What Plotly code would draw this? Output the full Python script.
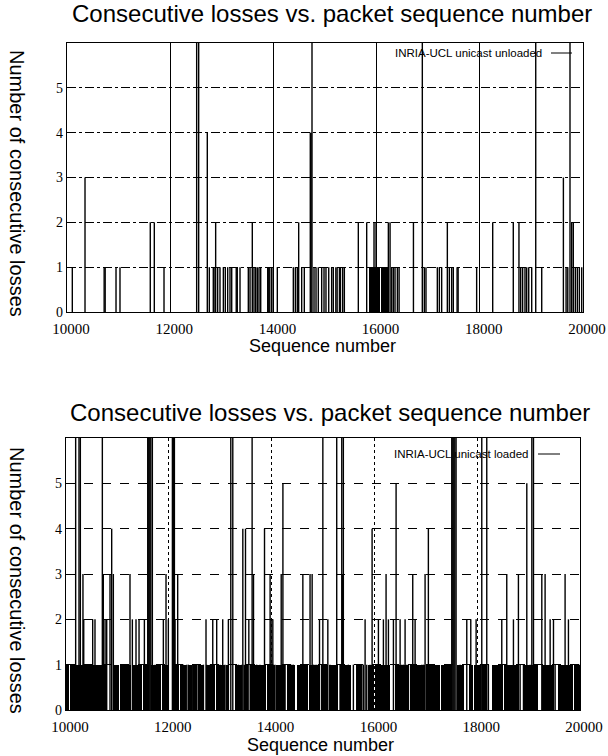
import plotly.graph_objects as go

W, H = 608, 756

# ---------------- data: unloaded (top) ----------------
unl_seq = [10103, 10349, 10720, 10740, 10950, 11027, 11614, 11692, 11880, 12513, 12552,
           12719, 12758, 12835, 12850, 12881, 12920, 12965, 13030, 13068, 13114, 13159,
           13192, 13280, 13300, 13353, 13514, 13547, 13591, 13624, 13657, 13688, 13721,
           13754, 13890, 13910, 13930, 13967, 13998, 14076, 14386, 14425, 14463, 14490,
           14548, 14599, 14715, 14730, 14748, 14787, 14826, 14870, 14936, 14981, 15019,
           15072, 15129, 15161, 15210, 15235, 15280, 15300, 15343, 15375, 15646, 15808,
           15950, 15989, 16228, 16261, 16293, 16325, 16357, 16403, 16436, 16714, 16886,
           16925, 16957, 17177, 17216, 17261, 17371, 17410, 17455, 17487, 17560, 17580,
           17939, 18250, 18649, 18759, 18792, 18830, 18876, 18909, 18948, 19006, 19084,
           19200, 19620, 19672, 19705, 19748, 19781, 19812, 19851, 19890, 19929, 19975]
unl_len = [1, 3, 1, 1, 1, 1, 2, 2, 1, 7, 7,
           4, 1, 1, 1, 2, 1, 1, 1, 1, 1, 1,
           1, 1, 1, 1, 1, 1, 2, 1, 1, 1, 1,
           1, 1, 1, 1, 1, 1, 1, 1, 1, 1, 2,
           1, 1, 4, 4, 7, 1, 1, 1, 1, 1, 1,
           1, 1, 1, 1, 1, 1, 1, 1, 1, 2, 2,
           2, 2, 2, 2, 1, 1, 1, 1, 1, 2, 7,
           1, 1, 1, 1, 1, 2, 1, 1, 1, 1, 1,
           1, 2, 2, 2, 1, 1, 1, 1, 1, 1, 7,
           1, 3, 1, 1, 7, 2, 2, 1, 1, 1, 1]
unl_burst_start = [15860, 16085]
unl_burst_end = [16060, 16215]

# ---------------- data: loaded (bottom) ----------------
ld_seq = [10188, 10253, 10279, 10330, 10345, 10402, 10499, 10519, 10564, 10707, 10726,
          10760, 10792, 10856, 10889, 10921, 11245, 11291, 11362, 11421, 11525, 11590,
          11610, 11630, 11650, 11680, 11732, 11764, 11894, 11946, 11991, 12070, 12090,
          12109, 12121, 12173, 12283, 12349, 12381, 12466, 12511, 12544, 12576, 12674,
          12724, 12738, 12802, 12855, 12867, 12932, 12997, 13049, 13094, 13159, 13206,
          13245, 13354, 13419, 13440, 13464, 13492, 13516, 13557, 13621, 13645, 13648,
          13710, 13775, 13862, 13971, 13991, 14024, 14034, 14067, 14187, 14220, 14262,
          14327, 14359, 14392, 14424, 14608, 14619, 14651, 14683, 14748, 14789, 14813,
          14846, 14878, 14932, 14997, 15008, 15073, 15094, 15137, 15267, 15332, 15365,
          15380, 15396, 15494, 15591, 15656, 15721, 15754, 15786, 15819, 15851, 15916,
          15955, 16078, 16175, 16227, 16273, 16370, 16422, 16500, 16532, 16565, 16597,
          16630, 16662, 16746, 16792, 16921, 16954, 16986, 17019, 17050, 17084, 17116,
          17505, 17525, 17545, 17565, 17589, 17668, 17797, 17875, 17979, 18056, 18089,
          18121, 18186, 18218, 18478, 18575, 18705, 18770, 18802, 18835, 18900, 18965,
          19030, 19063, 19095, 19257, 19321, 19419, 19484, 19516, 19710, 19775, 19990]
ld_len = [7, 7, 7, 3, 2, 1, 1, 2, 2, 7, 3,
          2, 2, 3, 4, 3, 3, 2, 2, 2, 2, 7,
          7, 7, 7, 7, 1, 1, 2, 3, 2, 7, 7,
          7, 2, 3, 1, 1, 1, 1, 1, 1, 1, 1,
          2, 1, 1, 2, 1, 2, 1, 2, 1, 2, 7,
          7, 1, 1, 4, 1, 4, 1, 2, 7, 1, 3,
          1, 1, 4, 3, 2, 2, 1, 1, 3, 5, 1,
          1, 1, 1, 1, 3, 1, 1, 1, 3, 3, 1,
          1, 1, 2, 7, 1, 1, 2, 1, 7, 1, 7,
          3, 7, 1, 1, 1, 1, 1, 1, 2, 1, 1,
          4, 2, 2, 3, 2, 2, 5, 2, 1, 1, 2,
          1, 1, 3, 2, 1, 1, 3, 1, 4, 1, 1,
          7, 7, 7, 7, 7, 1, 2, 2, 2, 1, 7,
          1, 7, 1, 2, 3, 2, 1, 3, 1, 1, 5,
          1, 7, 7, 3, 3, 2, 2, 1, 3, 2, 1]
ld_burst_start = [10000, 10075, 10200, 10520, 10925, 11055, 11300, 11495, 11650, 11860,
                  12055, 12215, 12370, 12470, 12560, 12720, 12935, 13105, 13280, 13460,
                  13575, 13720, 13915, 14080, 14295, 14490, 14720, 14955, 15110, 15325,
                  15670, 15885, 16005, 16395, 16580, 16690, 17000, 17290, 17600, 17835,
                  17930, 18100, 18280, 18515, 18885, 19075, 19270, 19565, 19715, 19875]
ld_burst_end = [10060, 10180, 10490, 10790, 11040, 11270, 11480, 11620, 11840, 11975,
                12200, 12340, 12450, 12540, 12690, 12900, 13090, 13180, 13430, 13550,
                13700, 13900, 14060, 14270, 14460, 14700, 14930, 15090, 15300, 15540,
                15750, 15985, 16295, 16560, 16665, 16975, 17270, 17500, 17740, 17910,
                18080, 18185, 18495, 18790, 19060, 19180, 19470, 19700, 19860, 19990]

x_ticks = [10000, 12000, 14000, 16000, 18000, 20000]
y_ticks = [0, 1, 2, 3, 4, 5]
title_text = "Consecutive losses vs. packet sequence number"
x_title = "Sequence number"
y_title = "Number of consecutive losses"
legend_top = "INRIA-UCL unicast unloaded"
legend_bottom = "INRIA-UCL unicast loaded"


def impulses(seq, ln):
    xs, ys = [], []
    for s, l in zip(seq, ln):
        xs += [s, s, None]
        ys += [0, l, None]
    return xs, ys


def px(x):
    return x / W


def py(y):
    return 1 - y / H


fig = go.Figure()

for seq, ln, bs, be, xa, ya in [
    (unl_seq, unl_len, unl_burst_start, unl_burst_end, "x", "y"),
    (ld_seq, ld_len, ld_burst_start, ld_burst_end, "x2", "y2"),
]:
    fig.add_trace(go.Bar(
        x=bs, y=[1] * len(bs), width=[e - s for s, e in zip(bs, be)], offset=0,
        marker=dict(color="black", line=dict(width=0)),
        xaxis=xa, yaxis=ya, showlegend=False, hoverinfo="skip"))
    xs, ys = impulses(seq, ln)
    fig.add_trace(go.Scatter(
        x=xs, y=ys, mode="lines", line=dict(color="black", width=1.4),
        xaxis=xa, yaxis=ya, showlegend=False, hoverinfo="skip"))

tick_font_x = dict(family="Liberation Serif, Times New Roman, serif", size=15, color="black")
tick_font_y = dict(family="Liberation Serif, Times New Roman, serif", size=14, color="black")

common_x = dict(range=[10000, 20000], tickvals=x_ticks, ticktext=[str(t) for t in x_ticks],
                showline=True, mirror=True, linecolor="black", linewidth=1.2,
                zeroline=False, ticks="", tickfont=tick_font_x, ticklabelshift=4,
                ticklabeloverflow="allow", ticklabelstandoff=3, automargin=False,
                gridcolor="black", gridwidth=1)
common_y = dict(range=[0, 6], tickvals=y_ticks, showline=True, mirror=True,
                linecolor="black", linewidth=1.2, zeroline=False, ticks="",
                tickfont=tick_font_y, gridcolor="black", gridwidth=1, automargin=False)

fig.update_layout(
    width=W, height=H, margin=dict(l=0, r=0, t=0, b=0, autoexpand=False),
    paper_bgcolor="white", plot_bgcolor="white", showlegend=False, bargap=0,
    xaxis=dict(domain=[px(67), px(583)], anchor="y", griddash="solid", **common_x),
    yaxis=dict(domain=[py(312), py(43)], anchor="x", griddash="dashdot", **common_y),
    xaxis2=dict(domain=[px(66), px(580)], anchor="y2", griddash="dot", **common_x),
    yaxis2=dict(domain=[py(710), py(438)], anchor="x2", griddash="dash", **common_y),
)

title_font = dict(family="Liberation Sans, Arial, sans-serif", size=24, color="black")
axis_font = dict(family="Liberation Sans, Arial, sans-serif", size=18, color="black")
yt_font = dict(family="Liberation Sans, Arial, sans-serif", size=20, color="black")
leg_font = dict(family="Liberation Sans, Arial, sans-serif", size=11.5, color="black")

annots = [
    dict(text=title_text, x=px(332), y=py(14), font=title_font),
    dict(text=title_text, x=px(330), y=py(412), font=title_font),
    dict(text=x_title, x=px(322), y=py(346), font=axis_font),
    dict(text=x_title, x=px(320), y=py(745), font=axis_font),
]
for a in annots:
    fig.add_annotation(xref="paper", yref="paper", showarrow=False,
                       xanchor="center", yanchor="middle", **a)
for yc in (183, 580):
    fig.add_annotation(text=y_title, xref="paper", yref="paper", x=px(4), y=py(yc),
                       xanchor="left", yanchor="middle", showarrow=False,
                       font=yt_font, textangle=90)

fig.add_annotation(text=legend_top, xref="paper", yref="paper", x=px(544), y=py(53),
                   xanchor="right", yanchor="middle", showarrow=False, font=leg_font)
fig.add_annotation(text=legend_bottom, xref="paper", yref="paper", x=px(530), y=py(454),
                   xanchor="right", yanchor="middle", showarrow=False, font=leg_font)
fig.add_shape(type="line", xref="paper", yref="paper", x0=px(551), x1=px(572),
              y0=py(53), y1=py(53), line=dict(color="black", width=1))
fig.add_shape(type="line", xref="paper", yref="paper", x0=px(538), x1=px(560),
              y0=py(454), y1=py(454), line=dict(color="black", width=1))

fig.write_html("out.html")
